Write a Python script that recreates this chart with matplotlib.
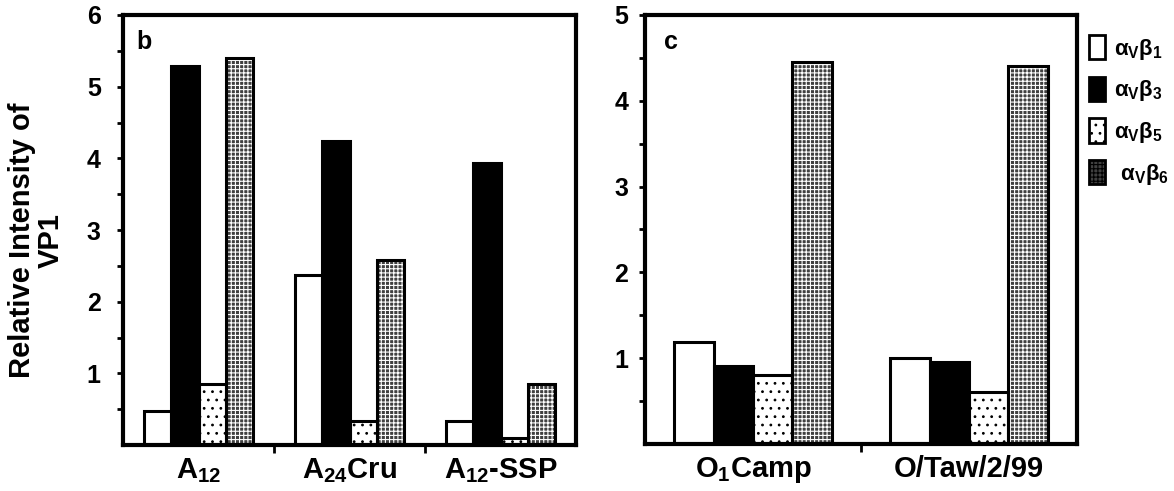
import numpy as np
import matplotlib.pyplot as plt
from matplotlib.patches import Rectangle

plt.rcParams['font.family'] = ['Liberation Sans', 'DejaVu Sans']
plt.rcParams['font.weight'] = 'bold'
plt.rcParams['mathtext.default'] = 'regular'
plt.rcParams['hatch.linewidth'] = 0.8

# panel b
strains_b = [r'$\mathregular{A_{12}}$', r'$\mathregular{A_{24}}$Cru', r'$\mathregular{A_{12}}$-SSP']
b_beta1 = [0.47, 2.37, 0.33]
b_beta3 = [5.29, 4.24, 3.94]
b_beta5 = [0.85, 0.33, 0.10]
b_beta6 = [5.40, 2.58, 0.85]

# panel c
strains_c = [r'$\mathregular{O_1}$Camp', 'O/Taw/2/99']
c_beta1 = [1.19, 1.00]
c_beta3 = [0.91, 0.96]
c_beta5 = [0.80, 0.61]
c_beta6 = [4.45, 4.41]

labels = [r'$\mathregular{α_Vβ_1}$', r'$\mathregular{α_Vβ_3}$',
          r'$\mathregular{α_Vβ_5}$', r' $\mathregular{α_Vβ_6}$']

# (face, hatch, hatch colour)
styles = [('white', None, 'black'),
          ('black', None, 'black'),
          ('white', '..', 'black'),
          ('#404040', '++++', 'white')]

fig = plt.figure(figsize=(11.74, 4.91), dpi=100)
axb = fig.add_axes([123/1174, 46/491, 453/1174, 430/491])
axc = fig.add_axes([645/1174, 47/491, 432/1174, 429/491])

w = 0.182
offs = np.array([-1.5, -0.5, 0.5, 1.5]) * w


def draw(ax, series, names, ymax, letter, lx, pad):
    x = np.arange(len(names))
    for i, vals in enumerate(series):
        face, hatch, hc = styles[i]
        ax.bar(x + offs[i], vals, w, color=face, hatch=hatch, edgecolor=hc,
               linewidth=0, zorder=2)
        ax.bar(x + offs[i], vals, w, facecolor='none', edgecolor='black',
               linewidth=2.2, zorder=3)
    ax.set_xlim(-0.5, len(names) - 0.5)
    ax.set_ylim(0, ymax)
    yt = np.arange(0.5, ymax + 0.01, 0.5)
    ax.set_yticks(yt)
    ax.set_yticklabels([str(int(v)) if v == int(v) else '' for v in yt])
    ax.tick_params(axis='y', direction='out', length=4, width=2,
                   labelsize=18, pad=pad)
    ax.set_xticks(x[:-1] + 0.5)
    ax.set_xticklabels([])
    ax.tick_params(axis='x', which='major', direction='out', length=6, width=2)
    ax.set_xticks(x, minor=True)
    ax.set_xticklabels(names, minor=True, fontsize=21, fontweight='bold')
    ax.tick_params(axis='x', which='minor', length=0, pad=8)
    for s in ax.spines.values():
        s.set_linewidth(3)
        s.set_zorder(5)
    ax.text(lx, 0.965, letter, transform=ax.transAxes, fontsize=18,
            fontweight='bold', va='top', ha='left')


draw(axb, [b_beta1, b_beta3, b_beta5, b_beta6], strains_b, 6, 'b', 0.03, 12)
draw(axc, [c_beta1, c_beta3, c_beta5, c_beta6], strains_c, 5, 'c', 0.045, 8)

proxies = []
for face, hatch, hc in styles:
    proxies.append(Rectangle((0, 0), 1, 1, facecolor=face, hatch=hatch,
                             edgecolor='black', linewidth=2))
fig.legend(proxies, labels, loc='upper left',
           bbox_to_anchor=(1078/1174, 1 - 24/491), frameon=False,
           fontsize=16, handlelength=0.7, handleheight=1.3,
           handletextpad=0.4, labelspacing=0.68, borderpad=0)

fig.text(0.031, 0.51, 'Relative Intensity of\nVP1', rotation=90,
         fontsize=21, fontweight='bold', ha='center', va='center',
         multialignment='center', linespacing=1.05)

fig.savefig('out.png', dpi=100)
